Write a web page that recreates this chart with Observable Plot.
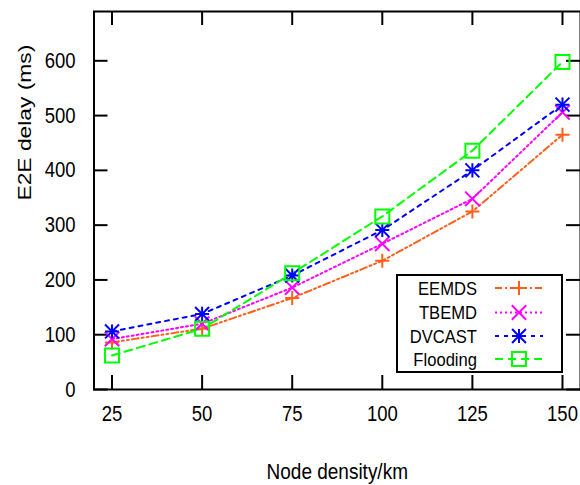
<!DOCTYPE html>
<html>
<head>
<meta charset="utf-8">
<script src="https://cdn.jsdelivr.net/npm/d3@7"></script>
<script src="https://cdn.jsdelivr.net/npm/@observablehq/plot@0.6"></script>
<style>
  html, body { margin: 0; padding: 0; background: #fff; }
  #wrap { position: relative; width: 580px; height: 485px; overflow: hidden; }
  #wrap svg { position: absolute; left: 0; top: 0; }
</style>
</head>
<body>
<div id="wrap"></div>
<script>
// ---- data ----
const nodeDensity = [25, 50, 75, 100, 125, 150];
const eemds    = [86, 111, 167, 235, 325, 465];
const tbemd    = [92, 120, 186, 266, 348, 506];
const dvcast   = [106, 138, 208, 291, 400, 520];
const flooding = [62, 111, 212, 316, 436, 598];
const seriesNames = ["EEMDS", "TBEMD", "DVCAST", "Flooding"];
const xTicks = [25, 50, 75, 100, 125, 150];
const yTicks = [0, 100, 200, 300, 400, 500, 600];
const xLabel = "Node density/km";
const yLabel = "E2E delay (ms)";

// ---- styles ----
const seriesValues = [eemds, tbemd, dvcast, flooding];
const colors = ["#ff5f1a", "#ff00ff", "#0000ff", "#00ff00"];
const dashes = ["7,3,2,3,2,3", "2,3", "4,5", "8,5"];
const symbols = [[["plus", 4.6]], [["times", 6.6]], [["plus", 4.6], ["times", 6.4]], [["square", 7.9]]];

const W = 580, H = 485, mL = 93.5, mR = 0, mT = 11, mB = 96;
const fw = W - mL - mR, fh = H - mT - mB;
const TS = 14; // inward tick length
const STRETCH = 1.2;

const tables = seriesValues.map((vals, k) =>
  nodeDensity.map((x, i) => ({x, y: vals[i], name: seriesNames[k]})));

const lineMarks = tables.map((t, k) =>
  Plot.line(t, {x: "x", y: "y", stroke: colors[k], strokeWidth: 2, strokeDasharray: dashes[k]}));
const dotMarks = tables.flatMap((t, k) =>
  symbols[k].map(([sym, r]) => Plot.dot(t, {x: "x", y: "y", symbol: sym, r, stroke: colors[k], strokeWidth: 2, fill: "none"})));

const chart = Plot.plot({
  width: W, height: H,
  marginLeft: mL, marginRight: mR, marginTop: mT, marginBottom: mB,
  style: {fontFamily: "'Liberation Sans', Arial, Helvetica, sans-serif", fontSize: "18.5px", background: "white", color: "black", overflow: "visible"},
  x: {domain: [20, 155]},
  y: {domain: [0, 690]},
  marks: [
    Plot.ruleX(xTicks, {x: d => d, insetTop: fh - TS, strokeWidth: 2}),
    Plot.ruleX(xTicks, {x: d => d, insetBottom: fh - TS, strokeWidth: 2}),
    Plot.ruleY(yTicks, {y: d => d, insetRight: fw - TS, strokeWidth: 2}),
    Plot.ruleY(yTicks, {y: d => d, insetLeft: fw - TS, strokeWidth: 2}),
    Plot.axisX(xTicks, {tickSize: 0, tickPadding: 16, label: null}),
    Plot.axisY(yTicks, {tickSize: 0, tickPadding: 18.5, label: null}),
    Plot.text([xLabel], {frameAnchor: "bottom", dy: 73, lineAnchor: "top", fontSize: 19}),
    Plot.text([yLabel], {frameAnchor: "left", dx: -76, rotate: -90, lineAnchor: "top", fontSize: 19}),
    ...lineMarks,
    ...dotMarks,
    Plot.frame({strokeWidth: 2})
  ]
});

function stretchTexts(svg, s) {
  svg.querySelectorAll("text").forEach(t => {
    const tr = t.getAttribute("transform") || "";
    const rot = /rotate\(\s*-?90/.test(tr);
    t.setAttribute("transform", tr + (rot ? ` scale(${s},1)` : ` scale(1,${s})`));
  });
}
stretchTexts(chart, STRETCH);
document.getElementById("wrap").appendChild(chart);

// ---- legend overlay ----
const leg = d3.select("#wrap").append("svg").attr("width", W).attr("height", H)
  .style("pointer-events", "none")
  .style("font-family", "'Liberation Sans', Arial, Helvetica, sans-serif");
const L = {x: 397, y: 275, w: 165, h: 97, textX: 477, s0: 495, s1: 543, rows: [288, 312.5, 336, 359]};
leg.append("rect").attr("x", L.x).attr("y", L.y).attr("width", L.w).attr("height", L.h)
  .attr("fill", "white").attr("stroke", "black").attr("stroke-width", 2);
const symMap = {plus: d3.symbolPlus, times: d3.symbolTimes, square: d3.symbolSquare};
seriesNames.forEach((name, k) => {
  const yy = L.rows[k];
  leg.append("text").text(name).attr("text-anchor", "end").attr("dy", "0.36em")
    .attr("font-size", 16.6)
    .attr("transform", `translate(${L.textX},${yy}) scale(1,1.12)`);
  leg.append("line").attr("x1", L.s0).attr("x2", L.s1).attr("y1", yy).attr("y2", yy)
    .attr("stroke", colors[k]).attr("stroke-width", 2).attr("stroke-dasharray", dashes[k]);
  symbols[k].forEach(([sym, r]) => {
    leg.append("path").attr("d", d3.symbol(symMap[sym], r * r * Math.PI)())
      .attr("transform", `translate(${(L.s0 + L.s1) / 2},${yy})`)
      .attr("fill", "none").attr("stroke", colors[k]).attr("stroke-width", 2);
  });
});
</script>
</body>
</html>
